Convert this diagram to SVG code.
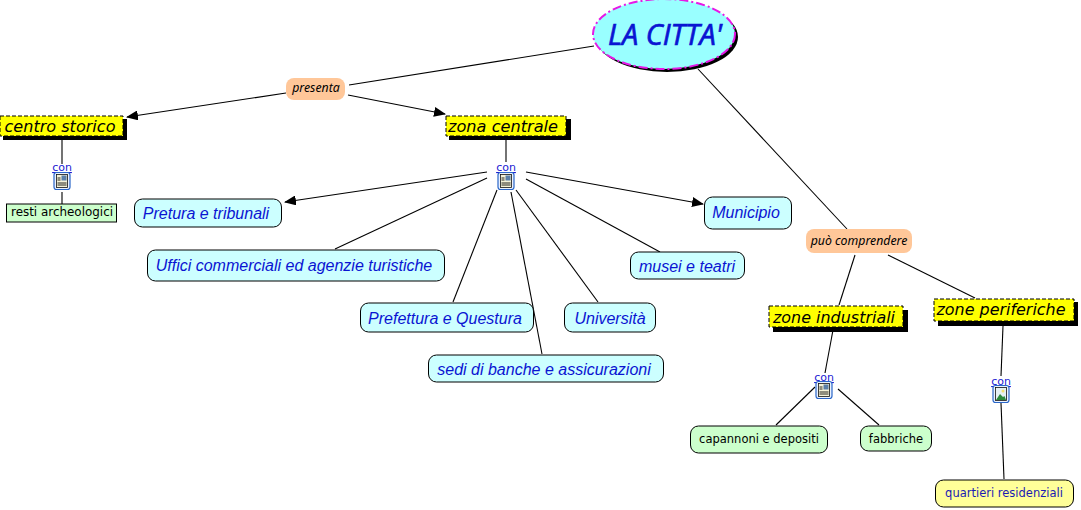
<svg xmlns="http://www.w3.org/2000/svg" width="1081" height="510" viewBox="0 0 1081 510">
<style>
text{text-anchor:middle}
.c{fill:none;stroke:#000;stroke-width:1.1}
.y{fill:#ff0;stroke:#000;stroke-width:1;stroke-dasharray:4 2}
.s{fill:#000}
.yt{font:italic 16.5px "DejaVu Sans",sans-serif;fill:#000}
.b{fill:#ccffff;stroke:#000;stroke-width:1}
.bt{font:italic 16px "Liberation Sans",Arial,sans-serif;fill:#0a14d2}
.l{fill:#ffc799}
.lt{font:italic 12.300px "Noto Sans",sans-serif;fill:#000}
.g{fill:#ccffcc;stroke:#000;stroke-width:1}
.gt{font:11.500px "DejaVu Sans",sans-serif;fill:#000}
.con{font:11px "DejaVu Sans",sans-serif;fill:#1a1ad2;text-decoration:underline}
.ib{fill:#eaf2ff;stroke:#2a66c8;stroke-width:1.2}
.in{fill:#f4f2d8;stroke:#111;stroke-width:.8}
</style>
<defs>
<marker id="a" viewBox="0 0 12 10" refX="11" refY="5" markerWidth="12" markerHeight="10" markerUnits="userSpaceOnUse" orient="auto"><path d="M0 0L12 5L0 10Z" fill="#000"/></marker>
<g id="doc"><rect class="ib" x="-8" y="-8.500" width="16" height="17" rx="2.500"/><rect class="in" x="-5.500" y="-6.500" width="11" height="13"/><path d="M-4.500 2h9M-4.500 4h9M-4.500 -1h3M-4.500 -3h3" stroke="#111" stroke-width=".9"/><rect x="-.5" y="-5.500" width="5" height="5" fill="#5a7fa8"/></g>
<g id="pic"><rect class="ib" x="-8" y="-8.500" width="16" height="17" rx="2.500"/><rect x="-5.500" y="-6.500" width="11" height="13" fill="#e4f0f4" stroke="#111" stroke-width=".8"/><path d="M-5 6L-1 0L2 3L3.500 2L5 6Z" fill="#2c8a3c"/><circle cx="2" cy="-3" r="1.500" fill="#f2e070"/></g>
</defs>
<g id="connectors">
<path class="c" d="M594 46L349 85"/>
<path class="c" d="M286 93L127 117" marker-end="url(#a)"/>
<path class="c" d="M348 95L445 114" marker-end="url(#a)"/>
<path class="c" d="M698 69L847 229"/>
<path class="c" d="M62 138V164M62 192V204"/>
<path class="c" d="M506 138V162"/>
<path class="c" d="M487 172L285 202" marker-end="url(#a)"/>
<path class="c" d="M487 178L335 249"/>
<path class="c" d="M497 190L453 302"/>
<path class="c" d="M511 192L542 354"/>
<path class="c" d="M516 190L598 302"/>
<path class="c" d="M526 179L660 252"/>
<path class="c" d="M526 172L703 204" marker-end="url(#a)"/>
<path class="c" d="M855 255L839 305"/>
<path class="c" d="M888 255L975 298"/>
<path class="c" d="M833 330L825 373"/>
<path class="c" d="M1003 326L1001 376"/>
<path class="c" d="M815 387L776 425"/>
<path class="c" d="M838 389L879 425"/>
<path class="c" d="M1001 403L1004 479"/>
</g>
<g id="n-citta"><ellipse cx="667" cy="37" rx="71" ry="35" class="s"/><ellipse cx="664" cy="34" rx="71" ry="35" fill="#99ffff" stroke="#e619e6" stroke-width="2" stroke-dasharray="9 3 2 3"/><text x="665" y="45" style="font:italic 400 29px 'Open Sans',sans-serif;fill:#0a14d2;stroke:#0a14d2;stroke-width:.7" textLength="114" lengthAdjust="spacingAndGlyphs">LA CITTA'</text></g>
<g id="n-presenta"><rect class="l" x="286" y="78" width="59" height="22" rx="8"/><text class="lt" x="316" y="92">presenta</text></g>
<g id="n-centro"><rect class="s" x="3" y="119" width="124" height="21"/><rect class="y" x="0" y="116" width="123" height="20"/><text class="yt" x="60" y="132" textLength="111" lengthAdjust="spacingAndGlyphs">centro storico</text></g>
<g id="n-zona-c"><rect class="s" x="449" y="119" width="122" height="21"/><rect class="y" x="446" y="116" width="120" height="20"/><text class="yt" x="503" y="132" textLength="110" lengthAdjust="spacingAndGlyphs">zona centrale</text></g>
<g id="l-con1"><text class="con" x="62" y="171">con</text><use href="#doc" x="62" y="181"/></g>
<g id="l-con2"><text class="con" x="506" y="171">con</text><use href="#doc" x="506" y="181"/></g>
<g id="n-resti"><rect class="g" x="6.500" y="204" width="110" height="18"/><text class="gt" x="62" y="216" textLength="102" lengthAdjust="spacingAndGlyphs">resti archeologici</text></g>
<g id="n-pretura"><rect class="b" x="134.500" y="199" width="147" height="28" rx="8"/><text class="bt" x="206" y="219">Pretura e tribunali</text></g>
<g id="n-uffici"><rect class="b" x="147.500" y="250" width="297" height="31" rx="8"/><text class="bt" x="294" y="271">Uffici commerciali ed agenzie turistiche</text></g>
<g id="n-prefettura"><rect class="b" x="360.500" y="303" width="173" height="29" rx="8"/><text class="bt" x="445" y="324">Prefettura e Questura</text></g>
<g id="n-universita"><rect class="b" x="564.500" y="303" width="91" height="29" rx="8"/><text class="bt" x="610" y="324">Università</text></g>
<g id="n-sedi"><rect class="b" x="428.500" y="355" width="235" height="27" rx="8"/><text class="bt" x="544" y="375">sedi di banche e assicurazioni</text></g>
<g id="n-musei"><rect class="b" x="630.500" y="252" width="114" height="27" rx="8"/><text class="bt" x="687" y="272">musei e teatri</text></g>
<g id="n-municipio"><rect class="b" x="704.500" y="197" width="87" height="32" rx="8"/><text class="bt" x="746" y="218">Municipio</text></g>
<g id="n-puo"><rect class="l" x="806" y="229" width="106" height="24" rx="8"/><text class="lt" x="859" y="245">può comprendere</text></g>
<g id="n-zona-i"><rect class="s" x="773" y="310" width="135" height="22"/><rect class="y" x="769" y="306" width="134" height="21"/><text class="yt" x="834" y="323" textLength="122" lengthAdjust="spacingAndGlyphs">zone industriali</text></g>
<g id="n-zona-p"><rect class="s" x="938" y="302" width="140" height="24"/><rect class="y" x="934" y="299" width="140" height="22"/><text class="yt" x="1001" y="315" textLength="129" lengthAdjust="spacingAndGlyphs">zone periferiche</text></g>
<g id="l-con3"><text class="con" x="824" y="381">con</text><use href="#doc" x="824" y="390"/></g>
<g id="l-con4"><text class="con" x="1001" y="385">con</text><use href="#pic" x="1001" y="394"/></g>
<g id="n-capannoni"><rect class="g" x="690.500" y="426" width="137" height="27" rx="8"/><text class="gt" x="759" y="443">capannoni e depositi</text></g>
<g id="n-fabbriche"><rect class="g" x="860.500" y="426" width="71" height="25" rx="8"/><text class="gt" x="896" y="443">fabbriche</text></g>
<g id="n-quartieri"><rect x="935.500" y="480" width="138" height="27" rx="8" fill="#ffff99" stroke="#000"/><text class="gt" x="1004" y="497" style="fill:#1a1ab4">quartieri residenziali</text></g>
</svg>
